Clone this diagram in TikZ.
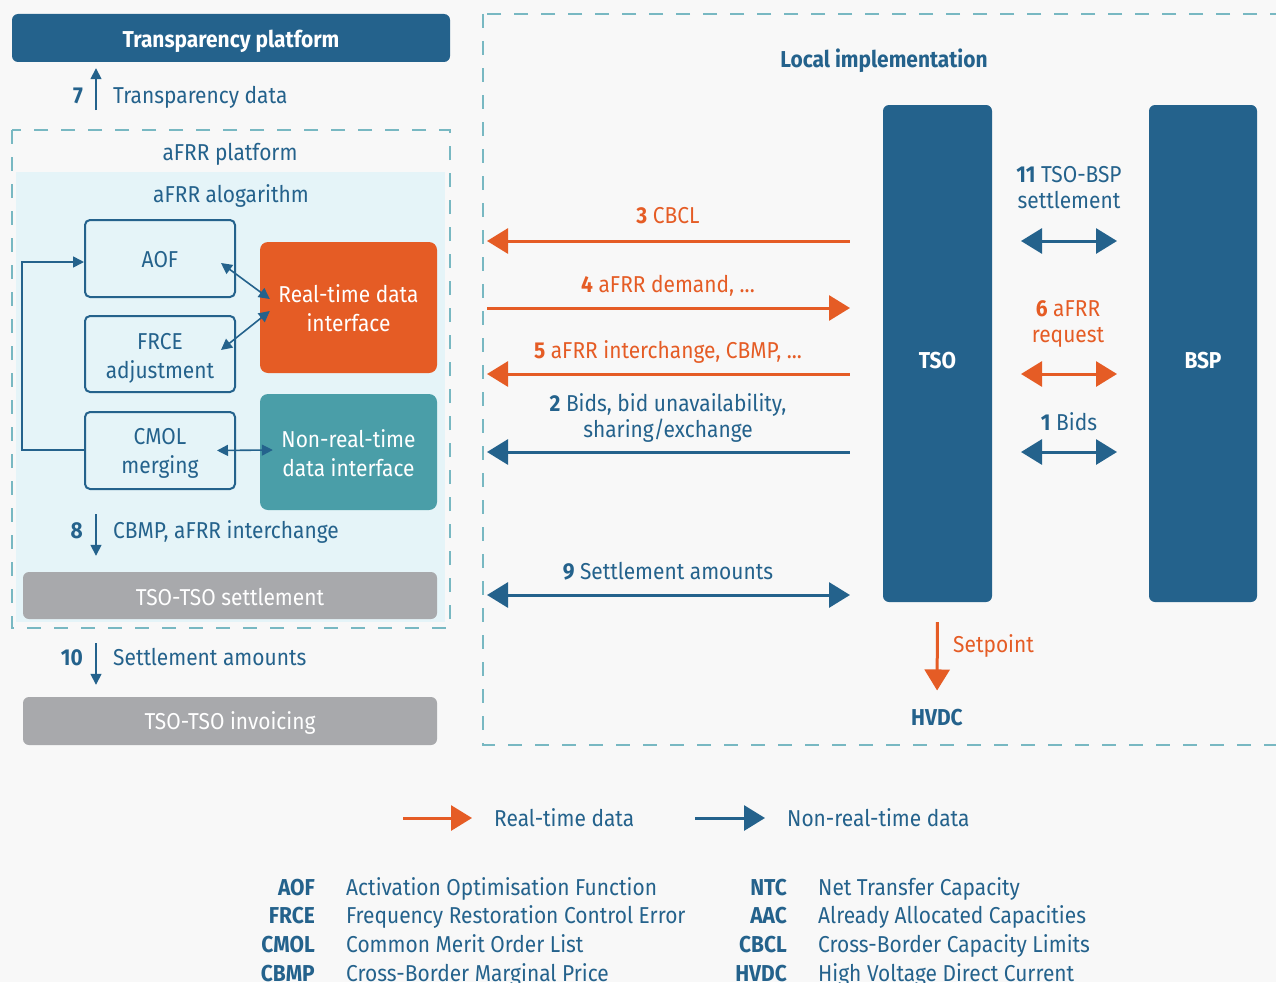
\documentclass[tikz,border=0pt]{standalone}
\usepackage{fontspec}
\setmainfont{Fira Sans}[FakeStretch=0.91]
\usetikzlibrary{arrows.meta,positioning,calc}
\definecolor{navy}{RGB}{36,98,140}
\definecolor{flame}{RGB}{229,92,37}
\definecolor{lagoon}{RGB}{74,158,168}
\definecolor{stone}{RGB}{168,169,172}
\definecolor{mist}{RGB}{229,244,248}
\definecolor{paper}{RGB}{248,248,248}
\definecolor{dashc}{RGB}{120,184,194}
\newcommand{\fs}{\fontsize{23}{29}\selectfont}
\tikzset{
  lbl/.style={inner sep=0pt,align=center,text=navy,font=\fs},
  rtl/.style={lbl,text=flame},
  rise/.style={text height=#1,text depth=0pt},
  bar/.style={rounded corners=6pt,inner sep=0pt,align=center,text=white,font=\fs},
  algo/.style={draw=navy,line width=2pt,rounded corners=5pt,fill=mist,text=navy,
    minimum width=150pt,minimum height=77pt,inner sep=0pt,align=center,font=\fs},
  iface/.style={rounded corners=8pt,text=white,minimum width=177pt,inner sep=0pt,
    align=center,font=\fs},
  frame/.style={draw=dashc,line width=1.5pt,dash pattern=on 14pt off 13pt},
  big/.style={line width=3pt,>={Triangle[length=21pt,width=25pt]}},
  fine/.style={line width=1.6pt,navy,>={Triangle[length=11pt,width=11pt]}},
}
\begin{document}
\begin{tikzpicture}[x=1pt,y=-1pt]
\clip (0,0) rectangle (1276,982);
\fill[paper] (0,0) rectangle (1276,982);
% platform frames
\fill[mist] (16,172) rectangle (445,622);
\draw[frame] (12,130) rectangle (450,628);
\draw[frame] (483,14) rectangle (1300,745);
\node[lbl,anchor=base] (plat) at (230,160) {aFRR platform};
\node[lbl,anchor=base] (algoname) at (231,202) {aFRR alogarithm};
\node[lbl,anchor=base,font=\fs\bfseries] (local) at (884,67) {Local implementation};

% boxes
\node[bar,fill=navy,minimum width=438pt,minimum height=48pt,font=\fs\bfseries,rise=20pt] (tp) at (231,38) {Transparency platform};
\node[algo,rise=17pt] (aof) at (160,258.5) {AOF};
\node[algo,minimum height=76pt,rise=48pt] (frce) at (160,354) {FRCE\\adjustment};
\node[algo,rise=45pt] (cmol) at (160,450.5) {CMOL\\merging};
\node[iface,fill=flame,minimum height=131pt,rise=47pt] (rt) at (348.5,307.5) {Real-time data\\interface};
\node[iface,fill=lagoon,minimum height=116pt,rise=48pt] (nrt) at (348.5,452) {Non-real-time\\data interface};
\node[bar,fill=stone,minimum width=414pt,minimum height=47pt,rise=19pt] (settle) at (230,595.5) {TSO-TSO settlement};
\node[bar,fill=stone,minimum width=414pt,minimum height=48pt,rise=16pt] (invoice) at (230,721) {TSO-TSO invoicing};
\node[bar,fill=navy,minimum width=109pt,minimum height=497pt,font=\fs\bfseries,rise=29pt] (tso) at (937.5,353.5) {TSO};
\node[bar,fill=navy,minimum width=108pt,minimum height=497pt,font=\fs\bfseries,rise=29pt] (bsp) at (1203,353.5) {BSP};
\node[lbl,anchor=base,font=\fs\bfseries] (hvdc) at (937,725) {HVDC};

% inside the algorithm
\draw[fine,<->] ($(aof.east)+(-15,4.5)$) -- ($(rt.west)+(10,-8.5)$);
\draw[fine,<->] ($(frce.east)+(-15,-4)$) -- ($(rt.west)+(10,3.5)$);
\draw[fine,<->] ($(cmol.east)+(-19,0)$) -- ($(nrt.west)+(13,-2)$);
\draw[fine,->] ($(cmol.west)+(0,-0.5)$) -- ++(-62,0) |- ($(aof.west)+(0,3.5)$);

% left column flows
\coordinate (s7) at (96,110);
\coordinate (s8) at (96,514);
\coordinate (s10) at (96,643);
\draw[fine,->,shorten >=6pt] (s7) -- (s7 |- tp.south);
\draw[fine,->,shorten >=16pt] (s8) -- (s8 |- settle.north);
\draw[fine,->,shorten >=12pt] (s10) -- (s10 |- invoice.north);
\foreach \n/\y/\t in {7/103/Transparency data,8/538/{CBMP, aFRR interchange},10/665/Settlement amounts}{
  \node[lbl,anchor=base east,font=\fs\bfseries] (n\n) at (83,\y) {\n};
  \node[lbl,anchor=base west] (t\n) at (113,\y) {\t};}

% flows towards the TSO
\foreach \k/\y in {3/241,4/308,5/374,2/452,9/595}{
  \coordinate (a\k) at (487,\y);
  \coordinate (b\k) at (850,\y);}
\draw[big,flame,<-] (a3) -- (b3);
\draw[big,flame,->] (a4) -- (b4);
\draw[big,flame,<-] (a5) -- (b5);
\draw[big,navy,<-] (a2) -- (b2);
\draw[big,navy,<->] (a9) -- (b9);
\node[rtl,anchor=base] (l3) at (668,223) {\textbf{3} CBCL};
\node[rtl,anchor=base] (l4) at (668,292) {\textbf{4} aFRR demand, ...};
\node[rtl,anchor=base] (l5) at (668,358) {\textbf{5} aFRR interchange, CBMP, ...};
\node[lbl,anchor=base,font=\fontsize{23}{26}\selectfont] (l2) at (668,437) {\textbf{2} Bids, bid unavailability,\\sharing/exchange};
\node[lbl,anchor=base] (l9) at (668,579) {\textbf{9} Settlement amounts};

% TSO - BSP
\foreach \k/\y in {11/241,6/374,1/452}{
  \coordinate (c\k) at (1021,\y);
  \coordinate (d\k) at (1117,\y);}
\draw[big,navy,<->] (c11) -- (d11);
\draw[big,flame,<->] (c6) -- (d6);
\draw[big,navy,<->] (c1) -- (d1);
\node[lbl,anchor=base,font=\fontsize{23}{26}\selectfont] (l11) at (1069,208) {\textbf{11} TSO-BSP\\settlement};
\node[rtl,anchor=base,font=\fontsize{23}{26}\selectfont] (l6) at (1068,342) {\textbf{6} aFRR\\request};
\node[lbl,anchor=base] (l1) at (1069,430) {\textbf{1} Bids};

% setpoint
\draw[big,flame,->,shorten <=20pt,shorten >=18pt] (tso.south) -- (hvdc.north);
\node[rtl,anchor=base west] (setp) at (953,652) {Setpoint};

% legend
\coordinate (rt1) at (403,818); \coordinate (rt2) at (472,818);
\coordinate (nr1) at (695,818); \coordinate (nr2) at (765,818);
\draw[big,flame,->] (rt1) -- (rt2);
\draw[big,navy,->] (nr1) -- (nr2);
\node[lbl,anchor=base west] (krt) at (494,826) {Real-time data};
\node[lbl,anchor=base west] (knr) at (787,826) {Non-real-time data};
\foreach \i/\ab/\desc in {0/AOF/Activation Optimisation Function,1/FRCE/Frequency Restoration Control Error,
    2/CMOL/Common Merit Order List,3/CBMP/Cross-Border Marginal Price}{
  \node[lbl,anchor=base east,font=\fs\bfseries] (ab\i) at (315,{895+28.7*\i}) {\ab};
  \node[lbl,anchor=base west] (de\i) at (346,{895+28.7*\i}) {\desc};}
\foreach \i/\ab/\desc in {0/NTC/Net Transfer Capacity,1/AAC/Already Allocated Capacities,
    2/CBCL/Cross-Border Capacity Limits,3/HVDC/High Voltage Direct Current}{
  \node[lbl,anchor=base east,font=\fs\bfseries] (ac\i) at (787,{895+28.7*\i}) {\ab};
  \node[lbl,anchor=base west] (dc\i) at (818,{895+28.7*\i}) {\desc};}
\end{tikzpicture}
\end{document}
